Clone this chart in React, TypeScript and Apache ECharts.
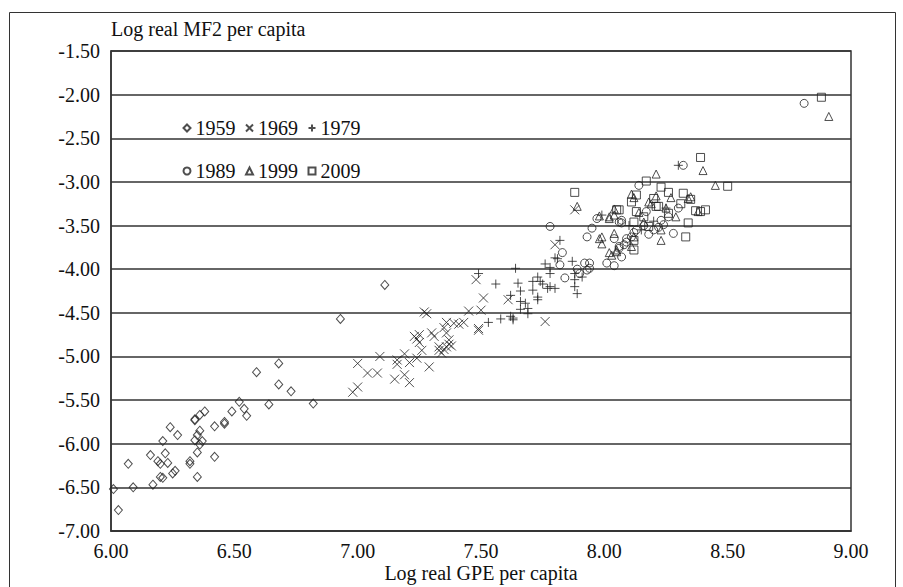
import React, { useEffect, useRef } from "react";
import * as echarts from "echarts";

const yearLabels = ["1959", "1969", "1979", "1989", "1999", "2009"];

const xTicks = { min: 6, max: 9, interval: 0.5 };
const yTicks = { min: -7, max: -1.5, interval: 0.5 };

const data1959: number[][] = [
  [6.01, -6.52], [6.03, -6.76], [6.07, -6.23], [6.09, -6.5], [6.16, -6.13], [6.17, -6.47],
  [6.19, -6.2], [6.2, -6.23], [6.2, -6.38], [6.21, -6.39], [6.21, -5.97], [6.22, -6.11],
  [6.23, -6.22], [6.24, -5.81], [6.25, -6.34], [6.26, -6.31], [6.27, -5.9], [6.32, -6.2],
  [6.32, -6.23], [6.34, -5.72], [6.34, -5.73], [6.34, -5.96], [6.35, -6.1], [6.35, -5.9],
  [6.35, -6.38], [6.36, -5.85], [6.36, -6.01], [6.36, -5.67], [6.37, -5.97], [6.38, -5.63],
  [6.42, -5.8], [6.42, -6.15], [6.46, -5.77], [6.46, -5.75], [6.49, -5.63], [6.52, -5.52],
  [6.54, -5.6], [6.55, -5.68], [6.59, -5.18], [6.64, -5.55], [6.68, -5.08], [6.68, -5.32],
  [6.73, -5.4], [6.82, -5.54], [6.93, -4.57], [7.11, -4.18],
];

const data1969: number[][] = [
  [6.98, -5.41], [7.0, -5.35], [7.0, -5.08], [7.04, -5.19], [7.08, -5.19], [7.09, -5.0],
  [7.15, -5.26], [7.16, -5.09], [7.16, -5.04], [7.19, -5.21], [7.19, -4.97], [7.21, -5.3],
  [7.21, -5.07], [7.23, -4.77], [7.24, -5.02], [7.24, -4.8], [7.25, -4.84], [7.25, -4.75],
  [7.26, -4.93], [7.27, -4.49], [7.28, -4.51], [7.29, -5.12], [7.3, -4.73], [7.31, -4.77],
  [7.33, -4.89], [7.33, -4.93], [7.34, -4.96], [7.35, -4.92], [7.36, -4.89], [7.36, -4.73],
  [7.36, -4.61], [7.37, -4.86], [7.37, -4.81], [7.38, -4.88], [7.39, -4.62], [7.41, -4.63],
  [7.43, -4.61], [7.45, -4.48], [7.48, -4.12], [7.49, -4.68], [7.49, -4.7], [7.5, -4.47],
  [7.51, -4.33], [7.61, -4.35], [7.76, -4.6], [7.8, -3.72], [7.88, -3.32], [7.35, -4.67],
];

const data1979: number[][] = [
  [7.49, -4.05], [7.56, -4.17], [7.53, -4.61], [7.58, -4.57], [7.63, -4.56], [7.63, -4.58],
  [7.64, -3.99], [7.62, -4.3], [7.65, -4.16], [7.66, -4.25], [7.66, -4.37], [7.66, -4.46],
  [7.68, -4.39], [7.69, -4.45], [7.69, -4.51], [7.71, -4.14], [7.71, -4.24], [7.73, -4.09],
  [7.73, -4.32], [7.73, -4.35], [7.74, -4.14], [7.75, -4.17], [7.76, -3.94], [7.77, -4.22],
  [7.78, -4.2], [7.78, -3.98], [7.78, -4.05], [7.8, -4.22], [7.8, -3.87], [7.82, -3.67],
  [7.81, -3.88], [7.87, -3.91], [7.88, -4.05], [7.88, -4.12], [7.88, -4.2], [7.89, -4.28],
  [7.91, -4.09], [7.99, -3.38], [8.3, -2.81], [8.1, -3.5], [8.2, -3.45], [8.25, -3.3],
  [8.15, -3.55], [7.62, -4.54],
];

const data1989: number[][] = [
  [7.78, -3.51], [7.83, -3.81], [7.82, -3.95], [7.84, -4.1], [7.93, -3.63], [7.95, -3.53],
  [7.92, -3.93], [7.94, -3.93], [7.89, -4.0], [7.9, -4.05], [7.93, -4.01], [7.94, -3.99],
  [8.01, -3.93], [8.04, -3.96], [7.97, -3.42], [8.07, -3.44], [8.06, -3.46], [8.07, -3.47],
  [8.14, -3.04], [8.17, -3.34], [8.23, -3.44], [8.24, -3.49], [8.2, -3.55], [8.28, -3.59],
  [8.04, -3.65], [8.09, -3.65], [8.08, -3.72], [8.06, -3.76], [8.07, -3.86], [8.11, -3.63],
  [8.13, -3.55], [8.06, -3.74], [8.09, -3.69], [8.32, -2.81], [8.81, -2.1], [8.16, -3.5],
  [8.18, -3.6], [8.12, -3.58], [8.22, -3.52], [8.26, -3.4], [8.3, -3.3],
];

const data1999: number[][] = [
  [7.89, -3.28], [7.99, -3.63], [7.99, -3.71], [7.98, -3.39], [8.02, -3.42], [8.04, -3.31],
  [8.02, -3.4], [8.04, -3.38], [8.21, -2.91], [8.11, -3.14], [8.12, -3.18], [8.14, -3.35],
  [8.18, -3.23], [8.21, -3.16], [8.27, -3.18], [8.34, -3.19], [8.35, -3.17], [8.23, -3.67],
  [8.04, -3.59], [8.03, -3.84], [8.05, -3.78], [8.12, -3.63], [8.11, -3.74], [8.02, -3.81],
  [8.05, -3.8], [8.16, -3.46], [8.19, -3.25], [8.25, -3.3], [8.38, -3.34], [8.4, -2.87],
  [8.45, -3.04], [8.91, -2.25], [7.98, -3.65], [8.23, -3.55], [8.29, -3.4],
];

const data2009: number[][] = [
  [7.88, -3.12], [8.05, -3.32], [8.06, -3.32], [8.17, -2.99], [8.23, -3.06], [8.13, -3.15],
  [8.11, -3.23], [8.13, -3.34], [8.2, -3.19], [8.21, -3.28], [8.26, -3.12], [8.32, -3.13],
  [8.31, -3.25], [8.34, -3.47], [8.33, -3.63], [8.37, -3.33], [8.39, -3.34], [8.41, -3.32],
  [8.39, -2.72], [8.5, -3.05], [8.88, -2.03], [8.12, -3.46], [8.18, -3.51], [8.26, -3.36],
  [8.12, -3.67], [8.12, -3.78], [8.22, -3.28], [8.35, -3.2], [8.16, -3.4],
];

const seriesData = [data1959, data1969, data1979, data1989, data1999, data2009];
const symbols = [
  "diamond",
  "path://M0,0L10,10M10,0L0,10",
  "path://M5,0L5,10M0,5L10,5",
  "circle",
  "triangle",
  "rect",
];
const symbolSizes = [[8, 9], 9, 9, 8, 8, 8];

const FONT = "'Liberation Serif', 'Times New Roman', serif";
const INK = "#222";

export default function App() {
  const ref = useRef<HTMLDivElement>(null);
  useEffect(() => {
    if (!ref.current) return;
    const chart = echarts.init(ref.current, undefined, { renderer: "svg" });
    const series = yearLabels.map((name, i) => ({
      name,
      type: "scatter",
      data: seriesData[i],
      symbol: symbols[i],
      symbolSize: symbolSizes[i],
      itemStyle: { color: "none", borderColor: INK, borderWidth: 1 },
      emphasis: { disabled: true },
    }));
    const legendStyle = {
      itemWidth: 7,
      itemHeight: 7,
      itemGap: 8,
      textStyle: { fontFamily: FONT, fontSize: 20, color: "#111" },
      selectedMode: false,
      left: 176,
    };
    chart.setOption({
      animation: false,
      backgroundColor: "#fff",
      textStyle: { fontFamily: FONT },
      grid: {
        left: 111,
        top: 51,
        right: 52,
        bottom: 56,
        outerBoundsMode: "none",
        containLabel: false,
        show: true,
        borderColor: "#333",
        borderWidth: 1.5,
      },
      legend: [
        { ...legendStyle, top: 113, data: yearLabels.slice(0, 3) },
        { ...legendStyle, top: 156, data: yearLabels.slice(3, 6) },
      ],
      graphic: [
        {
          type: "rect",
          shape: { x: 9.5, y: 12.5, width: 886, height: 600 },
          style: { fill: "none", stroke: "#333", lineWidth: 1 },
          silent: true,
          z: -1,
        },
      ],
      xAxis: {
        type: "value",
        min: xTicks.min,
        max: xTicks.max,
        interval: xTicks.interval,
        name: "Log real GPE per capita",
        nameLocation: "middle",
        nameGap: 42,
        nameMoveOverlap: false,
        nameTextStyle: {
          fontFamily: FONT,
          fontSize: 20,
          color: "#111",
          verticalAlign: "middle",
          lineHeight: 20,
        },
        axisLine: { show: true, lineStyle: { color: "#333", width: 1.5 } },
        axisTick: { show: false },
        splitLine: { show: false },
        axisLabel: {
          margin: 10,
          fontFamily: FONT,
          fontSize: 20,
          lineHeight: 20,
          color: "#111",
          formatter: (v: number) => v.toFixed(2),
        },
      },
      yAxis: {
        type: "value",
        min: yTicks.min,
        max: yTicks.max,
        interval: yTicks.interval,
        name: "Log real MF2 per capita",
        nameLocation: "end",
        nameGap: 22,
        nameTextStyle: {
          fontFamily: FONT,
          fontSize: 20,
          color: "#111",
          align: "left",
          verticalAlign: "middle",
        },
        axisLine: { show: true, lineStyle: { color: "#333", width: 1.5 } },
        axisTick: { show: false },
        splitLine: { show: true, lineStyle: { color: "#333", width: 1.5 } },
        axisLabel: {
          margin: 11,
          fontFamily: FONT,
          fontSize: 20,
          color: "#111",
          formatter: (v: number) => v.toFixed(2),
        },
      },
      series,
    });
    return () => chart.dispose();
  }, []);
  return (
    <div
      ref={ref}
      style={{ position: "absolute", left: 0, top: 0, width: 903, height: 587 }}
    />
  );
}
